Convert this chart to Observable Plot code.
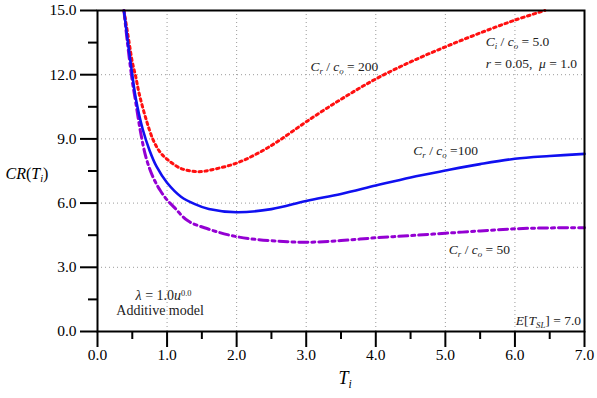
<!DOCTYPE html>
<html><head><meta charset="utf-8">
<script src="https://cdn.jsdelivr.net/npm/d3@7"></script>
<script src="https://cdn.jsdelivr.net/npm/@observablehq/plot@0.6"></script>
<style>
body{margin:0;background:#fff}
</style>
</head><body><div id="chart"></div>
<script>
// Axis ticks
const xTicks = [0, 1, 2, 3, 4, 5, 6, 7];
const xMinor = [0.5, 1.5, 2.5, 3.5, 4.5, 5.5, 6.5];
const yTicks = [0, 3, 6, 9, 12, 15];
const yMinor = [1.5, 4.5, 7.5, 10.5, 13.5];

// Cr/co = 200 (red dotted)
const redX = [0.38, 0.45, 0.5, 0.55, 0.6, 0.7, 0.8, 0.9, 1.0, 1.2, 1.45, 1.7, 2.0, 2.3, 2.6, 3.0, 3.5, 4.0, 4.5, 5.0, 5.5, 6.0, 6.43];
const redY = [15.0, 13.6, 12.6, 11.9, 11.1, 9.9, 8.95, 8.38, 8.05, 7.62, 7.47, 7.6, 7.87, 8.32, 8.9, 9.8, 10.85, 11.8, 12.6, 13.3, 13.95, 14.55, 15.0];
// Cr/co = 100 (blue solid)
const blueX = [0.38, 0.43, 0.5, 0.55, 0.65, 0.75, 0.85, 1.0, 1.2, 1.4, 1.6, 2.0, 2.5, 3.0, 3.5, 4.0, 4.5, 5.0, 5.5, 6.0, 6.5, 7.0];
const blueY = [15.0, 13.7, 12.0, 10.9, 9.45, 8.45, 7.7, 6.95, 6.3, 5.95, 5.72, 5.57, 5.72, 6.1, 6.43, 6.82, 7.2, 7.52, 7.82, 8.07, 8.2, 8.3];
// Cr/co = 50 (purple dash-dot)
const purpleX = [0.38, 0.43, 0.5, 0.55, 0.62, 0.7, 0.8, 0.9, 1.0, 1.1, 1.3, 1.6, 1.9, 2.2, 2.6, 3.0, 3.5, 4.0, 4.5, 5.0, 5.5, 6.0, 6.5, 7.0];
const purpleY = [15.0, 13.5, 11.7, 10.7, 9.3, 8.1, 7.2, 6.6, 6.15, 5.81, 5.17, 4.78, 4.5, 4.33, 4.22, 4.17, 4.25, 4.38, 4.48, 4.59, 4.7, 4.8, 4.84, 4.85];

// Annotations (markup: *italic*, _{sub}, ^{sup})
const noteText = ["*C*_{r} / *c*_{o} = 200", "*C*_{r} / *c*_{o} =100", "*C*_{r} / *c*_{o} = 50",
  "*C*_{i} / *c*_{o} = 5.0", "*r* = 0.05,\u00a0 *μ* = 1.0"];
const noteX = [3.06, 4.54, 5.05, 5.58, 5.58];
const noteY = [12.38, 8.46, 3.83, 13.55, 12.52];
const endText = ["*E*[*T*_{SL}] = 7.0"];
const endX = [6.95];
const endY = [0.5];
const modelText = ["*λ* = 1.0*u*^{0.0}", "Additive model"];
const modelX = [0.95, 0.9];
const modelY = [1.68, 0.98];

const xLabel = "*T*_{i}";
const yLabel = "*CR*(*T*_{i})";

const toRows = (xs, ys) => xs.map((x, i) => ({x, y: ys[i]}));
const toNotes = (ts, xs, ys) => ts.map((t, i) => ({t, x: xs[i], y: ys[i]}));
const serif = "Liberation Serif, Times New Roman, serif";

const chart = Plot.plot({
  width: 597, height: 398,
  marginLeft: 97, marginRight: 13, marginTop: 10, marginBottom: 67,
  style: {fontFamily: serif, fontSize: "14px", background: "white", overflow: "visible", color: "black"},
  x: {domain: [0, 7]},
  y: {domain: [0, 15]},
  marks: [
    Plot.gridX(xTicks.slice(1, -1), {stroke: "#9a9a9a", strokeOpacity: 1, strokeDasharray: "1,3"}),
    Plot.gridY(yTicks.slice(1, -1), {stroke: "#9a9a9a", strokeOpacity: 1, strokeDasharray: "1,3"}),
    Plot.axisX({ticks: xTicks, tickSize: 16, tickFormat: () => "", strokeWidth: 2, label: null}),
    Plot.axisX({ticks: xMinor, tickSize: 8, tickFormat: () => "", strokeWidth: 2, label: null}),
    Plot.axisY({ticks: yTicks, tickSize: 17, tickFormat: () => "", strokeWidth: 2, label: null}),
    Plot.axisY({ticks: yMinor, tickSize: 9, tickFormat: () => "", strokeWidth: 2, label: null}),
    // tick labels as text marks placed through the scales
    Plot.text(xTicks, {x: d => d, frameAnchor: "bottom", text: d => d.toFixed(1), dy: 17, lineAnchor: "top", textAnchor: "middle", fontSize: 15.5, fontFamily: serif, fill: "black"}),
    Plot.text(yTicks, {y: d => d, frameAnchor: "left", text: d => d.toFixed(1), dx: -21, textAnchor: "end", fontSize: 15.5, fontFamily: serif, fill: "black"}),
    Plot.line(toRows(purpleX, purpleY), {x: "x", y: "y", curve: "catmull-rom", stroke: "#9400d3", strokeWidth: 3, strokeDasharray: "9,4,3,4"}),
    Plot.line(toRows(redX, redY), {x: "x", y: "y", curve: "catmull-rom", stroke: "#ff1010", strokeWidth: 3, strokeDasharray: "2.5,3.5"}),
    Plot.line(toRows(blueX, blueY), {x: "x", y: "y", curve: "catmull-rom", stroke: "#1010f0", strokeWidth: 2.6}),
    Plot.frame({stroke: "black", strokeWidth: 2}),
    Plot.text(toNotes(noteText, noteX, noteY), {x: "x", y: "y", text: "t", textAnchor: "start", fontSize: 13.5, fill: "#222", fontFamily: serif}),
    Plot.text(toNotes(endText, endX, endY), {x: "x", y: "y", text: "t", textAnchor: "end", fontSize: 13.5, fill: "#222", fontFamily: serif}),
    Plot.text(toNotes(modelText, modelX, modelY), {x: "x", y: "y", text: "t", textAnchor: "middle", fontSize: 14, fill: "#222", fontFamily: serif}),
    Plot.text([xLabel], {frameAnchor: "bottom", x: 3.5, text: d => d, dy: 52, dx: 4, fontSize: 18, textAnchor: "middle", fontFamily: serif}),
    Plot.text([yLabel], {frameAnchor: "left", y: 7.38, text: d => d, dx: -92, fontSize: 16, textAnchor: "start", fontFamily: serif})
  ]
});

// Turn simple markup into italic / subscript / superscript tspans
function richify(svg) {
  const ns = "http://www.w3.org/2000/svg";
  svg.querySelectorAll("text").forEach(t => {
    const s = t.textContent;
    if (!/[*]|_\{|\^\{/.test(s)) return;
    while (t.firstChild) t.removeChild(t.firstChild);
    s.split(/(\*[^*]+\*|_\{[^}]*\}|\^\{[^}]*\})/g).forEach(part => {
      if (!part) return;
      const ts = document.createElementNS(ns, "tspan");
      if (part[0] === "*") {
        ts.textContent = part.slice(1, -1);
        ts.setAttribute("font-style", "italic");
      } else if (part.startsWith("_{")) {
        ts.textContent = part.slice(2, -1);
        ts.setAttribute("font-style", "italic");
        ts.setAttribute("font-size", "0.65em");
        ts.setAttribute("baseline-shift", "-30%");
      } else if (part.startsWith("^{")) {
        ts.textContent = part.slice(2, -1);
        ts.setAttribute("font-size", "0.6em");
        ts.setAttribute("baseline-shift", "55%");
      } else {
        ts.textContent = part;
      }
      t.appendChild(ts);
    });
  });
}
richify(chart);
document.getElementById("chart").appendChild(chart);
</script>
</body></html>
